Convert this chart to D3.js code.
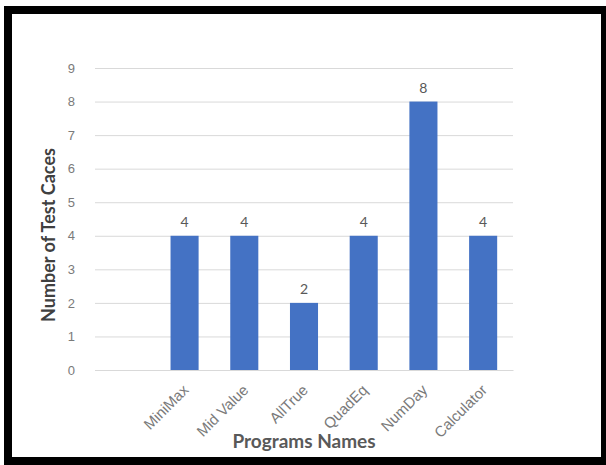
<!DOCTYPE html>
<html>
<head>
<meta charset="utf-8">
<script src="https://cdn.jsdelivr.net/npm/d3@7"></script>
<style>
  body{margin:0;background:#fff;}
  svg{display:block;font-family:Lato,"Open Sans",sans-serif;}
</style>
</head>
<body>
<svg width="606" height="465"></svg>
<script>
var programs=["","MiniMax","Mid Value","AllTrue","QuadEq","NumDay","Calculator"];
var testCases=[null,4,4,2,4,8,4];
var yTicks=[0,1,2,3,4,5,6,7,8,9];

var drawGraph=function(){
  let svg=d3.select('body').select('svg');

  // black picture frame
  svg.append('rect').attr('x',4).attr('y',6).attr('width',602).attr('height',459).attr('fill','#000');
  svg.append('rect').attr('x',12).attr('y',14).attr('width',589).attr('height',443).attr('fill','#fff');

  let margin={top:68,left:95};
  let plotWidth=418, plotHeight=302;

  let xScale=d3.scaleBand()
    .domain(programs)
    .range([0,plotWidth])
    .paddingInner(0.53)
    .paddingOuter(0.265);
  let yScale=d3.scaleLinear()
    .domain([0,9])
    .range([plotHeight,0]);

  let plot=svg.append('g').attr('id','plot')
    .attr('transform','translate('+margin.left+','+margin.top+')');

  // gridlines + y labels
  let yAxis=d3.axisLeft(yScale).tickValues(yTicks).tickSize(-plotWidth).tickPadding(20);
  let yGroup=plot.append('g').attr('id','y-axis').call(yAxis);
  yGroup.select('.domain').remove();
  yGroup.selectAll('line').attr('stroke','#d9d9d9').attr('stroke-width',1);
  yGroup.selectAll('text').attr('fill','#7a7a7a').style('font-size','13px');

  let xAxis=d3.axisBottom(xScale).tickSize(0).tickPadding(8);
  let xGroup=plot.append('g').attr('id','x-axis')
    .attr('transform','translate(0,'+plotHeight+')')
    .call(xAxis);
  xGroup.select('.domain').attr('stroke','#d9d9d9');
  xGroup.selectAll('text')
    .attr('fill','#7a7a7a')
    .style('font-size','15px')
    .attr('y',0).attr('x',0).attr('dy','0')
    .attr('transform','translate(5,21) rotate(-45)')
    .style('text-anchor','end');

  let entries=programs.map(function(p,i){return {key:p,value:testCases[i]};})
    .filter(function(d){return d.value!==null;});

  plot.selectAll('rect.bar').data(entries).enter().append('rect')
    .attr('class','bar')
    .attr('x',function(d){return xScale(d.key);})
    .attr('y',function(d){return yScale(d.value);})
    .attr('width',xScale.bandwidth())
    .attr('height',function(d){return plotHeight-yScale(d.value);})
    .attr('fill','#4472c4');

  plot.selectAll('text.details').data(entries).enter().append('text')
    .attr('class','details')
    .text(function(d){return d.value;})
    .attr('x',function(d){return xScale(d.key)+xScale.bandwidth()/2;})
    .attr('y',function(d){return yScale(d.value)-9;})
    .attr('text-anchor','middle')
    .attr('fill','#595959')
    .style('font-size','14px');

  plot.append('text')
    .text('Number of Test Caces')
    .attr('text-anchor','middle')
    .attr('transform','translate(-40,'+(plotHeight/2+16)+')rotate(-90)')
    .attr('fill','#404040')
    .style('font-size','18px').style('font-weight','bold');

  plot.append('text')
    .text('Programs Names')
    .attr('text-anchor','middle')
    .attr('transform','translate('+(plotWidth/2)+','+(plotHeight+78)+')')
    .attr('fill','#595959')
    .style('font-size','19px').style('font-weight','bold');
};
drawGraph();
</script>
</body>
</html>
